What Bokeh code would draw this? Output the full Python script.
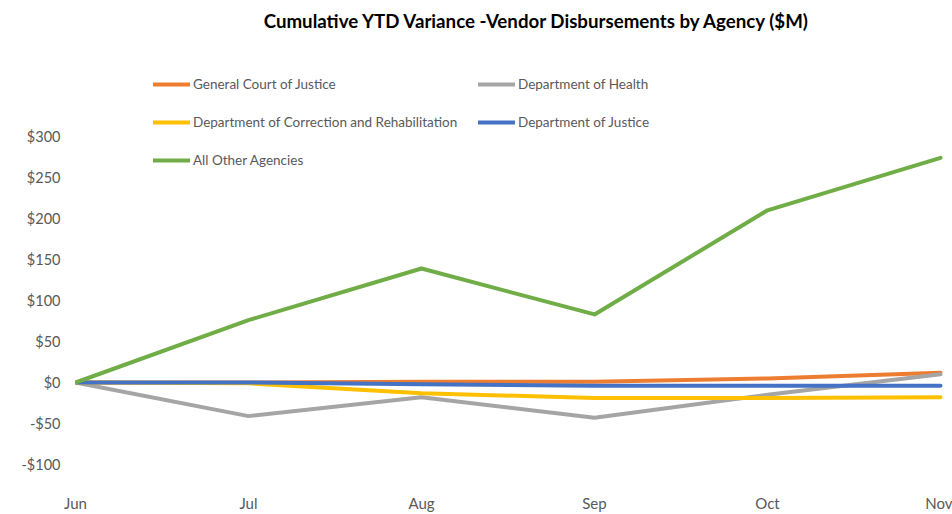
from bokeh.plotting import figure
from bokeh.models import Legend, LegendItem, FixedTicker, Range1d, Label
from bokeh.embed import file_html
from bokeh.resources import INLINE

months = ["Jun", "Jul", "Aug", "Sep", "Oct", "Nov"]
general_court = [0, 0, 1, 1, 5, 12]
health = [0, -41, -18, -43, -15, 10]
correction = [0, -1, -13, -19, -19, -18]
justice = [0, 0, -2, -4, -4, -4]
all_other = [0, 76, 139, 83, 210, 274]

series = [
    ("General Court of Justice", general_court, "#ED7D31"),
    ("Department of Health", health, "#A5A5A5"),
    ("Department of Correction and Rehabilitation", correction, "#FFC000"),
    ("Department of Justice", justice, "#4472C4"),
    ("All Other Agencies", all_other, "#70AD47"),
]
y_ticks = [-100, -50, 0, 50, 100, 150, 200, 250, 300]
title_text = "Cumulative YTD Variance -Vendor Disbursements by Agency ($M)"

FONT = "Lato"
W, H = 952, 514
FL, FT, FB = 75, 0, 492          # frame left / top / bottom (page px)
PX_PER_UNIT = 0.82
ZERO_Y = 382
p = figure(width=W, height=H, output_backend="svg", toolbar_location=None,
           x_range=Range1d(0, 5 * (W - FL) / (940 - FL)),
           y_range=Range1d(-(FB - ZERO_Y) / PX_PER_UNIT, (ZERO_Y - FT) / PX_PER_UNIT),
           min_border_left=FL, min_border_right=0, min_border_top=FT, min_border_bottom=H - FB)
p.outline_line_color = None
p.grid.visible = False
p.background_fill_color = "white"
p.border_fill_color = "white"

xs = list(range(len(months)))
renderers = []
for name, vals, color in series:
    r = p.line(xs, vals, line_color=color, line_width=4, line_join="round", line_cap="round")
    renderers.append((name, r))

# axes
p.yaxis.ticker = FixedTicker(ticks=y_ticks)
p.yaxis.major_label_overrides = {t: ("-$%d" % -t if t < 0 else "$%d" % t) for t in y_ticks}
p.xaxis.ticker = FixedTicker(ticks=xs)
p.xaxis.major_label_overrides = {i: m for i, m in enumerate(months)}
for ax in (p.xaxis, p.yaxis):
    ax.axis_line_color = None
    ax.major_tick_line_color = None
    ax.minor_tick_line_color = None
    ax.major_tick_out = 0
    ax.major_tick_in = 0
    ax.major_label_text_font = FONT
    ax.major_label_text_color = "#595959"
p.yaxis.major_label_text_font_size = "14.5px"
p.xaxis.major_label_text_font_size = "15px"
p.yaxis.major_label_standoff = 15
p.xaxis.major_label_standoff = 1

# title as a label inside the (full-height) frame; screen coords from frame bottom-left
p.add_layout(Label(x=537 - FL, y=FB - 20, x_units="screen", y_units="screen",
                   text=title_text, text_font=FONT, text_font_style="bold",
                   text_font_size="18.7px", text_color="#000000",
                   text_align="center", text_baseline="middle"))

def make_legend(items, loc):
    return Legend(items=[LegendItem(label=n, renderers=[r]) for n, r in items],
                  location=loc, orientation="vertical",
                  border_line_color=None, background_fill_alpha=0,
                  padding=0, margin=0, spacing=18,
                  glyph_width=37, glyph_height=20, label_height=20,
                  label_standoff=3, label_text_font=FONT, label_text_font_size="13.5px",
                  label_text_color="#595959")

rd = dict(renderers)
col1 = [(n, rd[n]) for n in ["General Court of Justice", "Department of Correction and Rehabilitation", "All Other Agencies"]]
col2 = [(n, rd[n]) for n in ["Department of Health", "Department of Justice"]]
p.add_layout(make_legend(col1, (153 - FL, FB - 170)))
p.add_layout(make_legend(col2, (478 - FL, FB - 132)))

open("out.html", "w").write(file_html(p, INLINE))
